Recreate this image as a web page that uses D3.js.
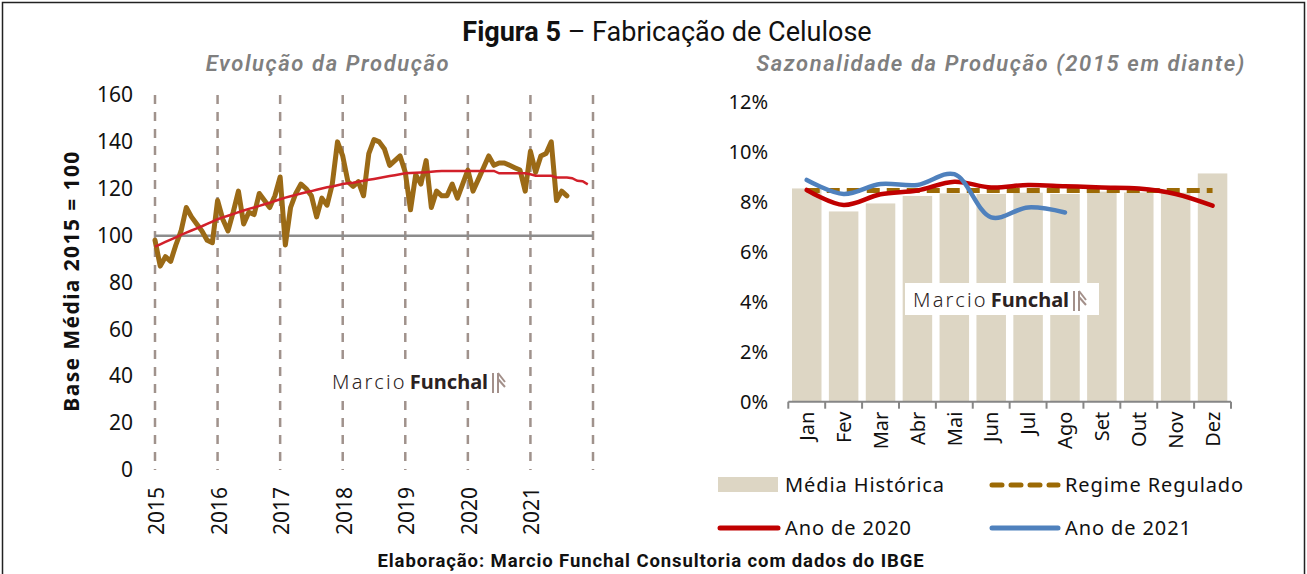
<!DOCTYPE html>
<html>
<head>
<meta charset="utf-8">
<script src="https://cdn.jsdelivr.net/npm/d3@7"></script>
<style>
  body { margin: 0; background: #fff; }
  svg { display: block; }
  text { font-family: "Noto Sans", sans-serif; fill: #111; }
</style>
</head>
<body>
<div id="chart"></div>
<script>
// ---- data: left panel (index, base 2015 = 100), monthly from Jan 2015 ----
const startYear = 2015;
const yearLabels = ["2015", "2016", "2017", "2018", "2019", "2020", "2021"];
const production = [
  98, 87, 91, 89, 96, 102, 112, 108, 105, 102, 98, 97,
  115, 107, 102, 110, 119, 105, 110, 109, 118, 115, 112, 117,
  125, 96, 112, 118, 122, 120, 117, 108, 116, 113, 122, 140,
  134, 123, 121, 123, 117, 135, 141, 140, 137, 130, 132, 134,
  127, 111, 126, 122, 132, 112, 119, 117, 117, 122, 116, 122,
  128, 119, 124, 129, 134, 130, 131, 131, 130, 129, 128, 119,
  136, 127, 134, 135, 140, 115, 119, 117
];
const trend = [
  95.3, 96.3, 97.3, 98.3, 99.3, 100.3, 101.3, 102.2, 103.1, 104.0, 105.0, 106.0,
  107.0, 107.8, 108.5, 109.2, 110.0, 110.7, 111.4, 112.0, 112.7, 113.4, 114.0, 114.8,
  115.5, 116.2, 116.8, 117.4, 118.0, 118.5, 119.0, 119.6, 120.1, 120.6, 121.0, 121.5,
  122.0, 122.3, 122.6, 123.0, 123.4, 123.8, 124.2, 124.6, 125.0, 125.4, 125.8, 126.2,
  126.6, 126.7, 126.8, 126.9, 127.0, 127.3, 127.5, 127.6, 127.6, 127.6, 127.6, 127.6,
  127.6, 127.6, 127.6, 127.6, 127.6, 127.6, 126.6, 126.6, 126.6, 126.6, 126.6, 126.6,
  126.2, 125.6, 125.6, 125.6, 125.5, 124.8, 124.8, 124.8, 124.5, 123.4, 123.2, 121.9
];

// ---- data: right panel (seasonality, share of the year) ----
const months = ["Jan", "Fev", "Mar", "Abr", "Mai", "Jun", "Jul", "Ago", "Set", "Out", "Nov", "Dez"];
const historicalAvg = [0.0853, 0.0761, 0.0793, 0.0823, 0.0833, 0.0831, 0.0836, 0.0831, 0.0840, 0.0837, 0.0836, 0.0913];
const regulated = [0.0845, 0.0845, 0.0845, 0.0845, 0.0845, 0.0845, 0.0845, 0.0845, 0.0845, 0.0845, 0.0845, 0.0845];
const year2020 = [0.0847, 0.0787, 0.0830, 0.0845, 0.0880, 0.0857, 0.0867, 0.0862, 0.0857, 0.0853, 0.0831, 0.0784];
const year2021 = [0.0887, 0.0831, 0.0871, 0.0867, 0.0910, 0.0737, 0.0777, 0.0757];

const W = 1307, H = 574;
const svg = d3.select("#chart").append("svg").attr("width", W).attr("height", H);

// frame
svg.append("rect").attr("x", 2.5).attr("y", 2.5).attr("width", W - 5).attr("height", H + 10)
  .attr("fill", "none").attr("stroke", "#222").attr("stroke-width", 1.5);

// titles
const title = svg.append("text").attr("x", 667).attr("y", 41).attr("text-anchor", "middle")
  .style("font-family", "Roboto").style("font-size", "27px");
title.append("tspan").style("font-weight", 700).text("Figura 5");
title.append("tspan").text(" –  Fabricação de Celulose");

const subStyle = sel => sel.style("font-family", "Roboto").style("font-style", "italic").style("font-weight", 600)
  .style("font-size", "22px").style("letter-spacing", "1.6px").style("fill", "#7f7f7f");
svg.append("text").attr("x", 328).attr("y", 71).attr("text-anchor", "middle")
  .call(subStyle).text("Evolução da Produção");
svg.append("text").attr("x", 1001).attr("y", 71).attr("text-anchor", "middle")
  .call(subStyle).text("Sazonalidade da Produção (2015 em diante)");

svg.append("text").attr("x", 651).attr("y", 567).attr("text-anchor", "middle")
  .style("font-family", "Roboto").style("font-weight", 700).style("font-size", "18.5px")
  .style("letter-spacing", "0.9px")
  .text("Elaboração: Marcio Funchal Consultoria com dados do IBGE");

// watermark helper
function watermark(x, y, box) {
  const g = svg.append("g").attr("transform", `translate(${x},${y})`);
  if (box) g.append("rect").attr("x", box[0]).attr("y", box[1]).attr("width", box[2]).attr("height", box[3]).attr("fill", "#fff");
  const t = g.append("text").attr("x", 0).attr("y", 0).style("font-size", "20px").style("fill", "#2b2222");
  t.append("tspan").style("font-weight", 300).style("letter-spacing", "2.2px").style("fill", "#2b2222").text("Marcio");
  t.append("tspan").attr("dx", 3).style("font-weight", 700).style("fill", "#2b2222").text("Funchal");
  const lx = 161;
  g.append("path").attr("d", `M${lx},-16 V4 M${lx + 5},-16 V4 M${lx + 5},-16 L${lx + 12},-7 M${lx + 5},-10 L${lx + 12},-2`)
    .attr("stroke", "#a3908a").attr("stroke-width", 2).attr("fill", "none");
}

// ---------------- left panel ----------------
const xL = d3.scaleLinear().domain([0, 84]).range([155, 593]);
const yL = d3.scaleLinear().domain([0, 160]).range([470, 95]);

const gL = svg.append("g");

gL.selectAll(".yearline").data(d3.range(0, 85, 12)).enter().append("line")
  .attr("x1", d => xL(d)).attr("x2", d => xL(d)).attr("y1", yL(160)).attr("y2", yL(0))
  .attr("stroke", "#a0928c").attr("stroke-width", 2.5).attr("stroke-dasharray", "9,8");

gL.append("line").attr("x1", xL(0)).attr("x2", xL(84)).attr("y1", yL(100)).attr("y2", yL(100))
  .attr("stroke", "#8c8c8c").attr("stroke-width", 2.5);

const yAxisL = gL.append("g").attr("transform", `translate(${xL(0)},0)`)
  .call(d3.axisLeft(yL).tickValues(d3.range(0, 161, 20)).tickSize(0).tickPadding(22));
yAxisL.select(".domain").remove();
yAxisL.selectAll("text").style("font-family", "Noto Sans").style("font-size", "21px").style("fill", "#111");

const xAxisL = gL.append("g").attr("transform", `translate(0,${yL(0)})`)
  .call(d3.axisBottom(xL).tickValues(d3.range(0, 73, 12)).tickSize(0)
    .tickFormat((d, i) => yearLabels[i]));
xAxisL.select(".domain").remove();
xAxisL.selectAll("text").attr("transform", "rotate(-90)").attr("x", -17).attr("y", 1)
  .attr("dy", "0.36em").attr("text-anchor", "end")
  .style("font-family", "Noto Sans").style("font-size", "21px").style("fill", "#111");

svg.append("text").attr("transform", "translate(79,281) rotate(-90)").attr("text-anchor", "middle")
  .style("font-weight", 700).style("font-size", "21px").style("letter-spacing", "1.4px")
  .text("Base Média 2015 = 100");

watermark(332, 389, [-6, -22, 186, 30]);

gL.append("path").datum(production)
  .attr("fill", "none").attr("stroke", "#9b6a16").attr("stroke-width", 5)
  .attr("stroke-linejoin", "round").attr("stroke-linecap", "round")
  .attr("d", d3.line().x((d, i) => xL(i)).y(d => yL(d)));

gL.append("path").datum(trend)
  .attr("fill", "none").attr("stroke", "#d2202a").attr("stroke-width", 2.5)
  .attr("d", d3.line().x((d, i) => xL(i)).y(d => yL(d)));

// ---------------- right panel ----------------
const xR = d3.scaleBand().domain(months).range([788.3, 1231]).paddingInner(0.2).paddingOuter(0.1);
const yR = d3.scaleLinear().domain([0, 0.12]).range([401.7, 101.7]);
const gR = svg.append("g");

gR.selectAll(".bar").data(historicalAvg).enter().append("rect")
  .attr("x", (d, i) => xR(months[i])).attr("width", xR.bandwidth())
  .attr("y", d => yR(d)).attr("height", d => yR(0) - yR(d))
  .attr("fill", "#ddd6c4");

const yAxisR = gR.append("g").attr("transform", `translate(788,0)`)
  .call(d3.axisLeft(yR).tickValues(d3.range(0, 0.121, 0.02)).tickFormat(d3.format(".0%")).tickSize(0).tickPadding(20));
yAxisR.select(".domain").remove();
yAxisR.selectAll("text").style("font-family", "Noto Sans").style("font-size", "20px").style("fill", "#111");

gR.append("line").attr("x1", 788.3).attr("x2", 1231).attr("y1", yR(0)).attr("y2", yR(0))
  .attr("stroke", "#868686").attr("stroke-width", 2);
gR.selectAll(".tick-mark").data(d3.range(0, 13)).enter().append("line")
  .attr("x1", d => 788.3 + d * xR.step()).attr("x2", d => 788.3 + d * xR.step())
  .attr("y1", yR(0)).attr("y2", yR(0) + 7).attr("stroke", "#868686").attr("stroke-width", 2);

const xAxisR = gR.append("g").attr("transform", `translate(0,${yR(0)})`)
  .call(d3.axisBottom(xR).tickSize(0));
xAxisR.select(".domain").remove();
xAxisR.selectAll("text").attr("transform", "rotate(-90)").attr("x", -10).attr("y", 0)
  .attr("dy", "0.36em").attr("text-anchor", "end")
  .style("font-family", "Noto Sans").style("font-size", "20px").style("fill", "#111");

watermark(913, 307, [-8, -24, 194, 32]);

const cx = (d, i) => xR(months[i]) + xR.bandwidth() / 2;

gR.append("path").datum(regulated)
  .attr("fill", "none").attr("stroke", "#9c6a05").attr("stroke-width", 5)
  .attr("stroke-dasharray", "13,7")
  .attr("d", d3.line().x(cx).y(d => yR(d)));

gR.append("path").datum(year2020)
  .attr("fill", "none").attr("stroke", "#c00000").attr("stroke-width", 4.5).attr("stroke-linecap", "round")
  .attr("d", d3.line().x(cx).y(d => yR(d)).curve(d3.curveCatmullRom));

gR.append("path").datum(year2021)
  .attr("fill", "none").attr("stroke", "#4f81bd").attr("stroke-width", 4.5).attr("stroke-linecap", "round")
  .attr("d", d3.line().x(cx).y(d => yR(d)).curve(d3.curveCatmullRom));

// legend
const legend = svg.append("g").style("font-size", "20px");
const legendItems = [
  { label: "Média Histórica", type: "rect", color: "#ddd6c4", x: 718, y: 485 },
  { label: "Regime Regulado", type: "dash", color: "#9c6a05", x: 990, y: 485 },
  { label: "Ano de 2020", type: "line", color: "#c00000", x: 718, y: 528 },
  { label: "Ano de 2021", type: "line", color: "#4f81bd", x: 990, y: 528 }
];
legendItems.forEach(it => {
  const w = it.x < 900 ? 60 : 68;
  if (it.type === "rect") {
    legend.append("rect").attr("x", it.x).attr("y", it.y - 8).attr("width", w).attr("height", 15).attr("fill", it.color);
  } else {
    legend.append("line").attr("x1", it.x + 2).attr("x2", it.x + w).attr("y1", it.y).attr("y2", it.y)
      .attr("stroke", it.color).attr("stroke-width", 5).attr("stroke-linecap", "round")
      .attr("stroke-dasharray", it.type === "dash" ? "10,9" : null);
  }
  legend.append("text").attr("x", it.x + w + 7).attr("y", it.y).attr("dy", "0.35em")
    .style("letter-spacing", "0.9px").text(it.label);
});
</script>
</body>
</html>
